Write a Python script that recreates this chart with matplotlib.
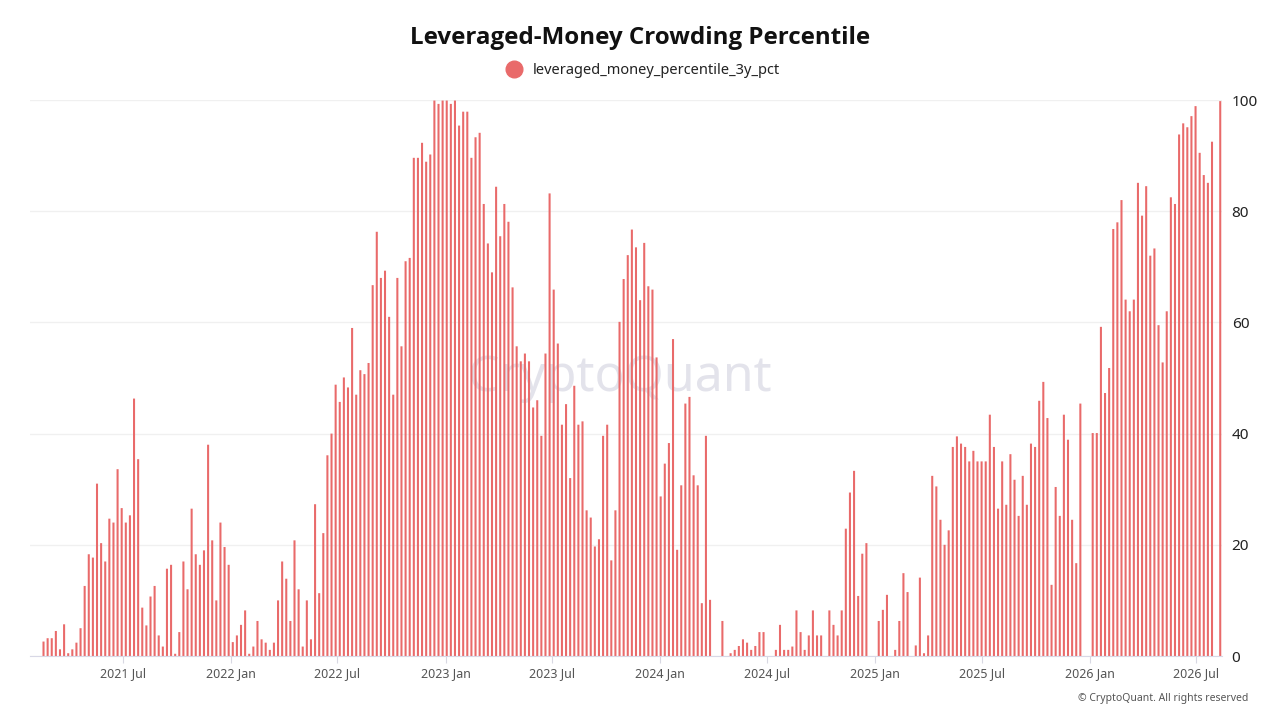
import numpy as np
import pandas as pd
import matplotlib
matplotlib.use("Agg")
import matplotlib.pyplot as plt
import matplotlib.dates as mdates
from matplotlib.lines import Line2D

plt.rcParams['font.family'] = ['Noto Sans', 'DejaVu Sans']

# Données hebdomadaires (mardi)
start_date = "2021-02-16"
percentile = [
    2.6, 3.2, 3.2, 4.5, 1.2, 5.7, 0.5, 1.2, 2.4, 5.0,
    12.6, 18.3, 17.7, 31.0, 20.3, 17.0, 24.7, 24.0, 33.6, 26.6,
    24.0, 25.3, 46.3, 35.4, 8.7, 5.5, 10.7, 12.6, 3.7, 1.7,
    15.7, 16.4, 0.4, 4.3, 17.0, 12.0, 26.5, 18.3, 16.4, 19.0,
    38.0, 20.8, 10.0, 24.0, 19.6, 16.4, 2.5, 3.7, 5.6, 8.2,
    0.4, 1.7, 6.3, 3.0, 2.4, 1.1, 2.4, 10.0, 17.0, 13.9,
    6.3, 20.8, 12.0, 1.7, 10.0, 3.0, 27.3, 11.3, 22.1, 36.1,
    40.0, 48.8, 45.7, 50.1, 48.3, 59.0, 47.0, 51.4, 50.7, 52.7,
    66.7, 76.3, 68.0, 69.3, 61.0, 47.0, 68.0, 55.7, 71.0, 71.6,
    89.6, 89.6, 92.3, 88.9, 90.2, 99.9, 99.3, 99.9, 99.9, 99.3,
    99.9, 95.4, 97.9, 97.9, 89.6, 93.3, 94.1, 81.3, 74.2, 69.0,
    84.4, 75.5, 81.3, 78.1, 66.3, 55.7, 53.0, 54.4, 53.0, 44.7,
    46.0, 39.6, 54.4, 83.2, 65.9, 56.2, 41.6, 45.3, 32.0, 48.6,
    41.6, 42.2, 26.2, 24.9, 19.7, 21.0, 39.6, 41.6, 17.2, 26.2,
    60.1, 67.8, 72.1, 76.7, 73.5, 64.0, 74.3, 66.5, 65.9, 53.7,
    28.7, 34.6, 38.3, 57.0, 19.1, 30.7, 45.4, 46.6, 32.5, 30.7,
    9.5, 39.6, 10.1, 0.0, 0.0, 6.3, 0.0, 0.5, 1.1, 1.8,
    3.0, 2.4, 1.1, 1.8, 4.3, 4.3, 0.0, 0.0, 1.1, 5.6,
    1.1, 1.1, 1.7, 8.2, 4.3, 1.1, 3.7, 8.2, 3.7, 3.7,
    0.0, 8.2, 5.6, 3.7, 8.2, 22.9, 29.4, 33.3, 10.8, 18.4,
    20.3, 0.0, 0.0, 6.3, 8.3, 11.0, 0.0, 1.1, 6.3, 14.9,
    11.5, 0.0, 1.9, 14.1, 0.5, 3.7, 32.4, 30.5, 24.5, 20.0,
    22.6, 37.6, 39.5, 38.2, 37.6, 35.0, 36.9, 35.0, 35.0, 35.0,
    43.4, 37.6, 26.5, 35.0, 27.2, 36.3, 31.7, 25.2, 32.4, 27.2,
    38.2, 37.6, 45.9, 49.3, 42.8, 12.8, 30.4, 25.2, 43.4, 38.9,
    24.5, 16.7, 45.4, 0.0, 0.0, 40.1, 40.1, 59.2, 47.3, 51.8,
    76.8, 78.0, 82.0, 64.1, 62.0, 64.1, 85.1, 79.2, 84.5, 72.0,
    73.3, 59.5, 52.8, 62.0, 82.5, 81.3, 93.8, 95.8, 95.1, 97.1,
    98.9, 90.5, 86.5, 85.1, 92.5, 0.0, 99.8,
]
dates = pd.date_range(start_date, periods=len(percentile), freq="7D")

tick_dates = pd.to_datetime(["2021-07-01", "2022-01-01", "2022-07-01", "2023-01-01",
                             "2023-07-01", "2024-01-01", "2024-07-01", "2025-01-01",
                             "2025-07-01", "2026-01-01", "2026-07-01"])
y_ticks = [0, 20, 40, 60, 80, 100]

bar_color = "#e96a6a"

fig = plt.figure(figsize=(12.8, 7.2), dpi=100)
ax = fig.add_axes([30/1280, 1 - 656/720, 1192/1280, 556/720])

ax.bar(dates, percentile, width=3.5, color=bar_color, edgecolor="none", linewidth=0,
       snap=False, zorder=2)

# Axes
ax.set_xlim(dates[0] - pd.Timedelta(days=23), dates[-1] + pd.Timedelta(days=3))
ax.set_ylim(0, 100)
ax.set_xticks(tick_dates)
ax.xaxis.set_major_formatter(mdates.DateFormatter("%Y %b"))
ax.yaxis.tick_right()
ax.set_yticks(y_ticks)
ax.tick_params(axis="y", length=0, pad=7, labelsize=11, labelcolor="#222222")
ax.tick_params(axis="x", length=5, color="#d8d8e2", pad=3, labelsize=9, labelcolor="#555555")
ax.grid(axis="y", color="#f0f0f0", linewidth=1, zorder=0)
for s in ["top", "left", "right"]:
    ax.spines[s].set_visible(False)
ax.spines["bottom"].set_color("#d8d8e6")

# Titre et légende
fig.text(0.5, 1 - 38/720, "Leveraged-Money Crowding Percentile", ha="center", va="center",
         fontsize=17.4, fontweight="bold", color="#111111", family=["Open Sans", "DejaVu Sans"])
handle = Line2D([], [], marker="o", linestyle="none", markersize=12,
                markerfacecolor=bar_color, markeredgecolor=bar_color)
fig.legend([handle], ["leveraged_money_percentile_3y_pct"], loc="center",
           bbox_to_anchor=(0.5, 1 - 71/720), frameon=False, fontsize=10.5,
           handletextpad=0.3, labelcolor="#222222")

# Filigrane et mention
ax.text(0.495, 0.5, "CryptoQuant", transform=ax.transAxes, ha="center", va="center",
        fontsize=36, color="#dcdce6", alpha=0.8, zorder=1)
fig.text(1248/1280, 1 - 698/720, "© CryptoQuant. All rights reserved", ha="right",
         va="center", fontsize=7.5, color="#555555")

fig.savefig("out.png", dpi=100)
